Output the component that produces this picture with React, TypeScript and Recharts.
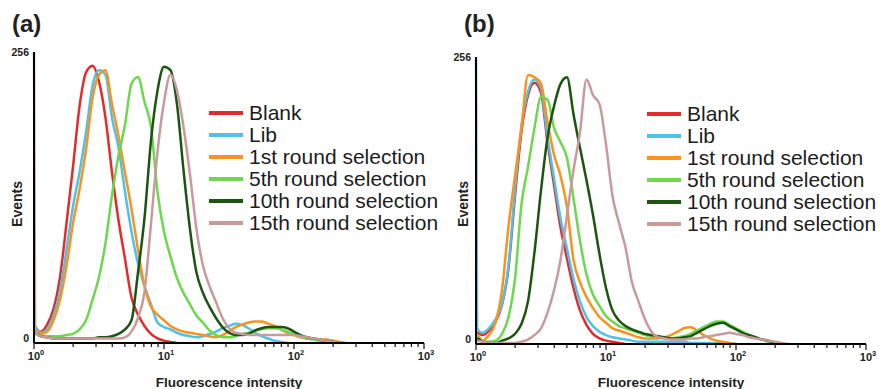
import { Legend, Line, LineChart, XAxis, YAxis } from 'recharts';

// fluorescence intensity sampled every 0.05 decade (plus one point right after 10^0)
const INTENSITY = [
  1, 1.02, 1.122, 1.259, 1.413, 1.585, 1.778, 1.995, 2.239, 2.512,
  2.818, 3.162, 3.548, 3.981, 4.467, 5.012, 5.623, 6.31, 7.079, 7.943,
  8.913, 10, 11.22, 12.59, 14.13, 15.85, 17.78, 19.95, 22.39, 25.12,
  28.18, 31.62, 35.48, 39.81, 44.67, 50.12, 56.23, 63.1, 70.79, 79.43,
  89.13, 100, 112.2, 125.9, 141.3, 158.5, 177.8, 199.5, 223.9, 251.2,
];

const X_TICKS = [
  1, 2, 3, 4, 5, 6, 7, 8, 9, 10, 20, 30, 40, 50, 60, 70, 80, 90,
  100, 200, 300, 400, 500, 600, 700, 800, 900, 1000,
];
const Y_TICKS = [0, 256];

const SERIES = [
  { key: 'blank', name: 'Blank', color: '#e42b2c' },
  { key: 'lib', name: 'Lib', color: '#4cc2ea' },
  { key: 'r1', name: '1st round selection', color: '#f7931e' },
  { key: 'r5', name: '5th round selection', color: '#6cd84c' },
  { key: 'r10', name: '10th round selection', color: '#1c5411' },
  { key: 'r15', name: '15th round selection', color: '#c99a9b' },
];

// (a)
const A_BLANK = [
  12, 12, 10, 16, 30, 58, 105, 155, 208, 238,
  244, 230, 198, 150, 108, 74, 40, 25, 15, 8,
  4, 2, 1, 0,
];
const A_LIB = [
  14, 14, 9, 12, 24, 45, 82, 120, 150, 185,
  226, 240, 236, 198, 172, 133, 98, 70, 50, 34,
  18, 14, 12, 9, 7, 6, 5, 6, 8, 10,
  13, 15, 17, 16, 13, 9, 6, 4, 2, 1,
  0,
];
const A_R1 = [
  12, 12, 8, 10, 20, 38, 68, 105, 135, 170,
  215, 236, 240, 210, 182, 150, 118, 82, 50, 32,
  25, 20, 15, 12, 10, 9, 8, 7, 6, 5,
  7, 10, 14, 16, 18, 19, 19, 17, 15, 12,
  9, 7, 5, 4, 4, 3, 3, 2, 1, 0,
];
const A_R5 = [
  8, 8, 6, 6, 6, 6, 7, 8, 12, 20,
  38, 58, 88, 130, 165, 192, 228, 234, 212, 190,
  133, 98, 76, 57, 44, 34, 24, 18, 11, 7,
  5, 5, 6, 8, 9, 11, 12, 13, 13, 12,
  10, 8, 6, 4, 3, 2, 1, 0,
];
const A_R10 = [
  10, 10, 6, 5, 4, 4, 4, 4, 4, 4,
  4, 5, 5, 6, 8, 12, 20, 62, 110, 178,
  222, 243, 240, 210, 152, 100, 62, 44, 32, 22,
  14, 9, 7, 7, 8, 11, 13, 14, 14, 14,
  13, 10, 7, 5, 4, 3, 2, 1, 0,
];
const A_R15 = [
  256, 12, 6, 5, 4, 4, 4, 4, 4, 4,
  4, 4, 4, 4, 4, 5, 10, 22, 45, 105,
  168, 212, 236, 222, 190, 148, 100, 68, 50, 36,
  22, 13, 9, 8, 7, 7, 7, 7, 7, 7,
  7, 7, 6, 5, 4, 3, 2, 1, 0,
];

// (b)
const B_BLANK = [
  10, 10, 8, 12, 20, 35, 68, 132, 190, 222,
  233, 224, 180, 142, 104, 76, 50, 30, 17, 9,
  5, 3, 2, 1, 0,
];
const B_LIB = [
  256, 14, 10, 14, 22, 36, 70, 138, 195, 225,
  236, 228, 185, 148, 112, 85, 58, 38, 24, 16,
  11, 8, 6, 5, 4, 3, 2, 2, 2, 2,
  2, 2, 2, 2, 1, 1, 1, 1, 1, 1,
  1, 0,
];
const B_R1 = [
  8, 8, 3, 8, 19, 48, 105, 150, 193, 240,
  238, 232, 198, 169, 150, 122, 75, 55, 42, 32,
  24, 19, 14, 12, 10, 8, 6, 5, 5, 5,
  6, 8, 11, 14, 15, 12, 8, 5, 3, 2,
  1, 0,
];
const B_R5 = [
  6, 6, 2, 2, 3, 9, 24, 58, 125, 158,
  193, 220, 218, 193, 180, 166, 130, 92, 62, 44,
  34, 25, 20, 16, 14, 12, 10, 8, 7, 6,
  5, 5, 6, 7, 9, 12, 15, 18, 20, 20,
  17, 14, 11, 8, 6, 4, 2, 1, 0,
];
const B_R10 = [
  5, 5, 2, 1, 1, 3, 5, 9, 18, 38,
  82, 137, 184, 212, 232, 238, 205, 175, 146, 115,
  80, 50, 30, 21, 16, 13, 11, 9, 8, 7,
  6, 5, 5, 6, 7, 10, 13, 16, 18, 19,
  16, 13, 10, 8, 6, 4, 3, 1, 0,
];
const B_R15 = [
  3, 3, 2, 1, 1, 1, 1, 1, 2, 4,
  8, 14, 28, 48, 75, 115, 155, 189, 236, 222,
  214, 178, 132, 108, 86, 55, 38, 22, 11, 6,
  5, 4, 4, 4, 5, 5, 6, 7, 8, 9,
  10, 9, 8, 6, 5, 4, 3, 2, 1, 0,
];

function buildRows(cols: Record<string, number[]>) {
  return INTENSITY.map((x, i) => {
    const row: Record<string, number | null> = { x };
    for (const k of Object.keys(cols)) row[k] = cols[k][i] ?? null;
    return row;
  });
}

const dataA = buildRows({ blank: A_BLANK, lib: A_LIB, r1: A_R1, r5: A_R5, r10: A_R10, r15: A_R15 });
const dataB = buildRows({ blank: B_BLANK, lib: B_LIB, r1: B_R1, r5: B_R5, r10: B_R10, r15: B_R15 });

const EXPONENT: Record<number, string> = { 1: '0', 10: '1', 100: '2', 1000: '3' };

// tick mark for every value, a "10^n" label on decades only
function XTick(props: any) {
  const { x, y, payload } = props;
  const exp = EXPONENT[payload.value];
  const major = exp !== undefined;
  return (
    <g className="x-tick">
      <path d={`M${x},${y}v${major ? 6 : 4}`} stroke="#222" strokeWidth={1.3} fill="none" />
      {major && (
        <text x={x + 2} y={y + 17} textAnchor="middle" fontSize={11} fontWeight="bold" fill="#222">
          10
          <tspan dy={-5} fontSize={7.5}>
            {exp}
          </tspan>
        </text>
      )}
    </g>
  );
}

function YTick({ x, y, payload }: any) {
  const top = payload.value === 256;
  return (
    <text x={x} y={y + (top ? 4 : -1)} textAnchor="end" fontSize={10.5} fontWeight="bold" fill="#222">
      {payload.value}
    </text>
  );
}

// legend drawn in the order of SERIES (Recharts would sort the payload by name)
function LegendBox() {
  return (
    <div>
      {SERIES.map((s) => (
        <div key={s.key} style={{ display: 'flex', alignItems: 'center', height: 22 }}>
          <span style={{ display: 'inline-block', width: 34, height: 4, background: s.color, marginRight: 6 }} />
          <span style={{ fontSize: 21, lineHeight: '22px', color: '#1c1c1c', whiteSpace: 'nowrap' }}>{s.name}</span>
        </div>
      ))}
    </div>
  );
}

function Panel({ data, left, width, margin, axisHeight, legendPos }: any) {
  return (
    <div style={{ position: 'absolute', left, top: 0 }}>
      <LineChart width={width} height={389} data={data} margin={margin}>
        <XAxis
          dataKey="x"
          type="number"
          scale="log"
          domain={[1, 1000]}
          ticks={X_TICKS}
          interval={0}
          tick={(p: any) => <XTick {...p} />}
          tickLine={false}
          tickSize={0}
          tickMargin={0}
          stroke="#000"
          height={axisHeight}
          axisLine={{ stroke: '#000', strokeWidth: 2 }}
          label={{
            value: 'Fluorescence intensity',
            position: 'insideBottom',
            offset: 2,
            style: { fontSize: 13.5, fontWeight: 'bold', fill: '#222' },
          }}
        />
        <YAxis
          type="number"
          domain={[0, 256]}
          ticks={Y_TICKS}
          tick={<YTick />}
          tickLine={false}
          tickSize={0}
          tickMargin={5}
          width={26}
          axisLine={{ stroke: '#000', strokeWidth: 2 }}
        />
        {SERIES.map((s) => (
          <Line
            key={s.key}
            dataKey={s.key}
            name={s.name}
            stroke={s.color}
            strokeWidth={2.5}
            type="monotone"
            dot={false}
            isAnimationActive={false}
          />
        ))}
        <Legend
          layout="vertical"
          align="center"
          verticalAlign="middle"
          content={<LegendBox />}
          wrapperStyle={{ left: legendPos.left, top: legendPos.top, width: 'auto' }}
        />
      </LineChart>
    </div>
  );
}

const letterStyle: React.CSSProperties = {
  position: 'absolute',
  top: 12,
  fontSize: 24,
  lineHeight: '24px',
  fontWeight: 'bold',
  color: '#222',
};

const eventsStyle: React.CSSProperties = {
  position: 'absolute',
  top: 204,
  fontSize: 14,
  fontWeight: 'bold',
  color: '#222',
  whiteSpace: 'nowrap',
  transform: 'translate(-50%, -50%) rotate(-90deg)',
};

export default function App() {
  return (
    <div
      style={{
        position: 'absolute',
        left: 0,
        top: 0,
        width: 881,
        height: 389,
        background: '#fff',
        overflow: 'hidden',
        fontFamily: '"Liberation Sans", Arial, sans-serif',
      }}
    >
      <Panel
        data={dataA}
        left={0}
        width={440}
        margin={{ top: 52, right: 16, bottom: 0, left: 8 }}
        axisHeight={46}
        legendPos={{ left: 209, top: 102 }}
      />
      <Panel
        data={dataB}
        left={440}
        width={441}
        margin={{ top: 57, right: 15, bottom: 0, left: 10 }}
        axisHeight={45}
        legendPos={{ left: 207, top: 103 }}
      />
      <div style={{ ...letterStyle, left: 12 }}>(a)</div>
      <div style={{ ...letterStyle, left: 464 }}>(b)</div>
      <div style={{ ...eventsStyle, left: 17 }}>Events</div>
      <div style={{ ...eventsStyle, left: 463 }}>Events</div>
    </div>
  );
}
